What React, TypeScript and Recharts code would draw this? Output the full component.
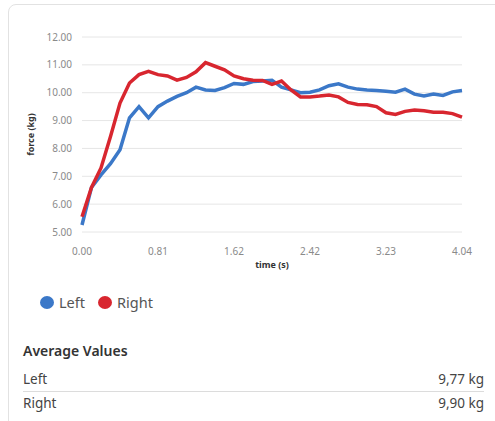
import React from "react"
import { LineChart, Line, XAxis, YAxis, CartesianGrid, Label } from "recharts"

const times = [
  0, 0.101, 0.202, 0.303, 0.404, 0.505, 0.606, 0.707, 0.808, 0.909, 1.01,
  1.111, 1.212, 1.313, 1.414, 1.515, 1.616, 1.717, 1.818, 1.919, 2.02,
  2.121, 2.222, 2.323, 2.424, 2.525, 2.626, 2.727, 2.828, 2.929, 3.03,
  3.131, 3.232, 3.333, 3.434, 3.535, 3.636, 3.737, 3.838, 3.939, 4.04,
]

const leftForce = [
  5.25, 6.6, 7.05, 7.45, 7.95, 9.1, 9.5, 9.1, 9.5, 9.7, 9.87,
  10.0, 10.2, 10.1, 10.08, 10.18, 10.33, 10.3, 10.4, 10.42, 10.45,
  10.2, 10.1, 10.0, 10.02, 10.1, 10.25, 10.32, 10.2, 10.13, 10.1,
  10.08, 10.05, 10.02, 10.13, 9.95, 9.88, 9.95, 9.9, 10.03, 10.08,
]

const rightForce = [
  5.55, 6.6, 7.3, 8.43, 9.63, 10.35, 10.65, 10.77, 10.65, 10.6, 10.45,
  10.55, 10.75, 11.08, 10.95, 10.82, 10.6, 10.5, 10.45, 10.44, 10.3,
  10.42, 10.1, 9.85, 9.85, 9.88, 9.92, 9.85, 9.65, 9.58, 9.57,
  9.5, 9.28, 9.22, 9.33, 9.38, 9.35, 9.3, 9.3, 9.25, 9.12,
]

const xTicks = [0, 0.808, 1.616, 2.424, 3.232, 4.04]
const yTicks = [5, 6, 7, 8, 9, 10, 11, 12]

const seriesNames = ["Left", "Right"]
const seriesColors = ["#3b78c8", "#d8262f"]
const averages = ["9,77 kg", "9,90 kg"]

const data = times.map((t, i) => ({ t, left: leftForce[i], right: rightForce[i] }))

const font = "'Noto Sans', 'Open Sans', sans-serif"

export default function App() {
  return (
    <div style={{ position: "relative", width: 495, height: 421, overflow: "hidden", background: "#fff", fontFamily: font }}>
      <style>{"body{margin:0}"}</style>
      {/* card outline, runs off the right edge like the screenshot */}
      <div
        style={{
          position: "absolute",
          left: 8,
          top: 4,
          width: 510,
          height: 440,
          border: "1.5px solid #e2e2e2",
          borderRadius: 8,
          boxSizing: "border-box",
        }}
      />
      <div style={{ position: "absolute", left: 0, top: 0 }}>
        <LineChart width={495} height={280} data={data} margin={{ top: 37, right: 33, left: 0, bottom: 8 }}>
          <CartesianGrid vertical={false} stroke="#e6e6e6" strokeWidth={1} />
          <XAxis
            dataKey="t"
            type="number"
            domain={[0, 4.04]}
            ticks={xTicks}
            tickFormatter={(v: number) => v.toFixed(2)}
            axisLine={false}
            tickLine={false}
            tickSize={0}
            tickMargin={16}
            height={40}
            tick={{ fill: "#8a8a8a", fontSize: 10, fontFamily: font }}
          >
            <Label
              value="time (s)"
              position="insideBottom"
              offset={4}
              style={{ fill: "#333", fontSize: 9, fontWeight: 700, fontFamily: font }}
            />
          </XAxis>
          <YAxis
            type="number"
            domain={[5, 12]}
            ticks={yTicks}
            tickFormatter={(v: number) => v.toFixed(2)}
            axisLine={false}
            tickLine={false}
            tickSize={0}
            tickMargin={10}
            width={82}
            tick={{ fill: "#8a8a8a", fontSize: 10, fontFamily: font }}
          >
            <Label
              content={({ viewBox }: any) => {
                const cy = viewBox.y + viewBox.height / 2
                return (
                  <text
                    x={30}
                    y={cy}
                    transform={`rotate(-90, 30, ${cy})`}
                    textAnchor="middle"
                    dominantBaseline="central"
                    style={{ fill: "#333", fontSize: 9, fontWeight: 700, fontFamily: font }}
                  >
                    force (kg)
                  </text>
                )
              }}
            />
          </YAxis>
          <Line dataKey="left" stroke={seriesColors[0]} strokeWidth={3.5} dot={false} isAnimationActive={false} />
          <Line dataKey="right" stroke={seriesColors[1]} strokeWidth={3.5} dot={false} isAnimationActive={false} />
        </LineChart>
      </div>

      {/* legend */}
      <div style={{ position: "absolute", left: 40, top: 292, display: "flex", alignItems: "center", fontSize: 14.5, color: "#555" }}>
        {seriesNames.map((n, i) => (
          <div key={n} style={{ display: "flex", alignItems: "center", marginRight: 13 }}>
            <span
              style={{
                display: "inline-block",
                width: 14,
                height: 13,
                borderRadius: "50%",
                background: seriesColors[i],
                marginRight: 5,
              }}
            />
            <span>{n}</span>
          </div>
        ))}
      </div>

      {/* averages table */}
      <div style={{ position: "absolute", left: 23, top: 341, width: 461, color: "#444" }}>
        <div style={{ fontSize: 14, fontWeight: 600, color: "#333", lineHeight: "20px" }}>Average Values</div>
        <div style={{ marginTop: 7 }}>
          {seriesNames.map((n, i) => (
            <div
              key={n}
              style={{
                display: "flex",
                justifyContent: "space-between",
                fontSize: 13.5,
                lineHeight: "23px",
                borderTop: i > 0 ? "1px solid #dcdcdc" : "none",
              }}
            >
              <span>{n}</span>
              <span>{averages[i]}</span>
            </div>
          ))}
        </div>
      </div>
    </div>
  )
}
